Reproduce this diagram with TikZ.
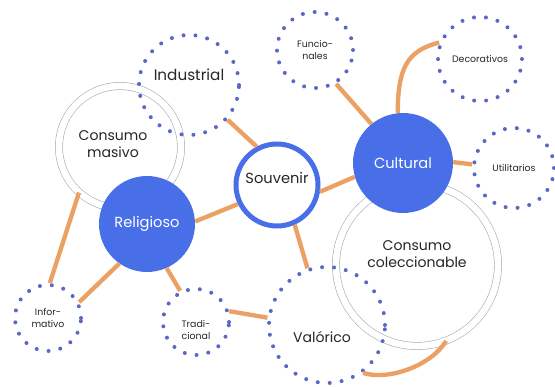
\documentclass[tikz,border=0pt]{standalone}
\usepackage{fontspec}
\setmainfont{Poppins}
\definecolor{souvblue}{RGB}{72,110,232}
\definecolor{dotblue}{RGB}{88,104,196}
\definecolor{linkorange}{RGB}{235,160,100}
\definecolor{ringgray}{RGB}{165,170,180}

\begin{document}
\begin{tikzpicture}[
    x=0.3mm, y=-0.3mm,
    filled/.style={circle, fill=souvblue, text=white, inner sep=0pt, font=\fontsize{12.5}{14}\selectfont},
    ring/.style={circle, draw=souvblue, line width=1.5mm, inner sep=0pt},
    dotring/.style={circle, draw=dotblue, line width=1.2mm, line cap=round, dash pattern=on 0pt off 3.6mm,
      inner sep=0pt, align=center, text=black!85, font=\fontsize{8}{9.5}\selectfont},
    twin/.style={circle, draw=ringgray, line width=0.5pt, double=white, double distance=2mm, inner sep=0pt},
    tag/.style={align=center, text=black!85, font=\fontsize{12}{14.5}\selectfont},
    link/.style={draw=linkorange, line width=1.3mm}
  ]
  \useasboundingbox (0,0) rectangle (555,387);

  % double rings (consumo)
  \node[twin, minimum size=36.6mm,
    label={[tag, xshift=-2.1mm, yshift=0.9mm]center:{Consumo\\masivo}}] (Mas) at (120,147) {};
  \node[twin, minimum size=48.6mm,
    label={[tag, yshift=3.3mm]center:{Consumo\\coleccionable}}] (Col) at (417,265) {};

  % main categories
  \node[filled, minimum size=28.8mm] (Rel) at (147,224) {Religioso};
  \node[filled, minimum size=30mm] (Cul) at (403,163) {Cultural};
  \node[ring, minimum size=24.6mm,
    label={[tag, font=\fontsize{12.5}{14}\selectfont, yshift=2.1mm]center:Souvenir}] (Sou) at (277,185) {};

  % dotted subcategories
  \node[dotring, minimum size=30mm,
    label={[tag, font=\fontsize{13}{15}\selectfont, yshift=3mm]center:Industrial}] (Ind) at (189,85) {};
  \node[dotring, minimum size=34.8mm,
    label={[tag, xshift=-1.5mm, yshift=-3.6mm]center:Valórico}] (Val) at (327,325) {};
  \node[dotring, minimum size=19.8mm] (Inf) at (48,318) {Infor-\\mativo};
  \node[dotring, minimum size=19.8mm,
    label={[tag, font=\fontsize{8}{9.5}\selectfont, yshift=-2.4mm]center:{Tradi-\\cional}}] (Tra) at (196,322) {};
  \node[dotring, minimum size=22.8mm] (Fun) at (315,50) {Funcio-\\nales};
  \node[dotring, minimum size=25.2mm] (Dec) at (480,59) {Decorativos};
  \node[dotring, minimum size=24mm] (Uti) at (514,168) {Utilitarios};

  % links around Souvenir
  \draw[link] (Ind.-42) -- (Sou.118);
  \draw[link] (Rel.3) -- (Sou.206);
  \draw[link] (Sou.-9) -- (Cul.196);
  \draw[link] (Sou.-66) -- (Val.109);

  % Cultural branches
  \draw[link] (Fun.-58) -- (Cul.129);
  \draw[link] (Cul.96) .. controls +(0,-45) and +(-32,8) .. (Dec.158);
  \draw[link] (Cul.1) -- (Uti.175);

  % Religioso branches
  \draw[link] (Mas.-132) -- (Inf.87);
  \draw[link] (Rel.-125) -- (Inf.27);
  \draw[link] (Rel.-66) -- (Tra.117);
  \draw[link] (Tra.18) -- (Val.173);
  \draw[link] (Val.-53) .. controls +(25,8) and +(-15,25) .. (Col.-69);
\end{tikzpicture}
\end{document}
